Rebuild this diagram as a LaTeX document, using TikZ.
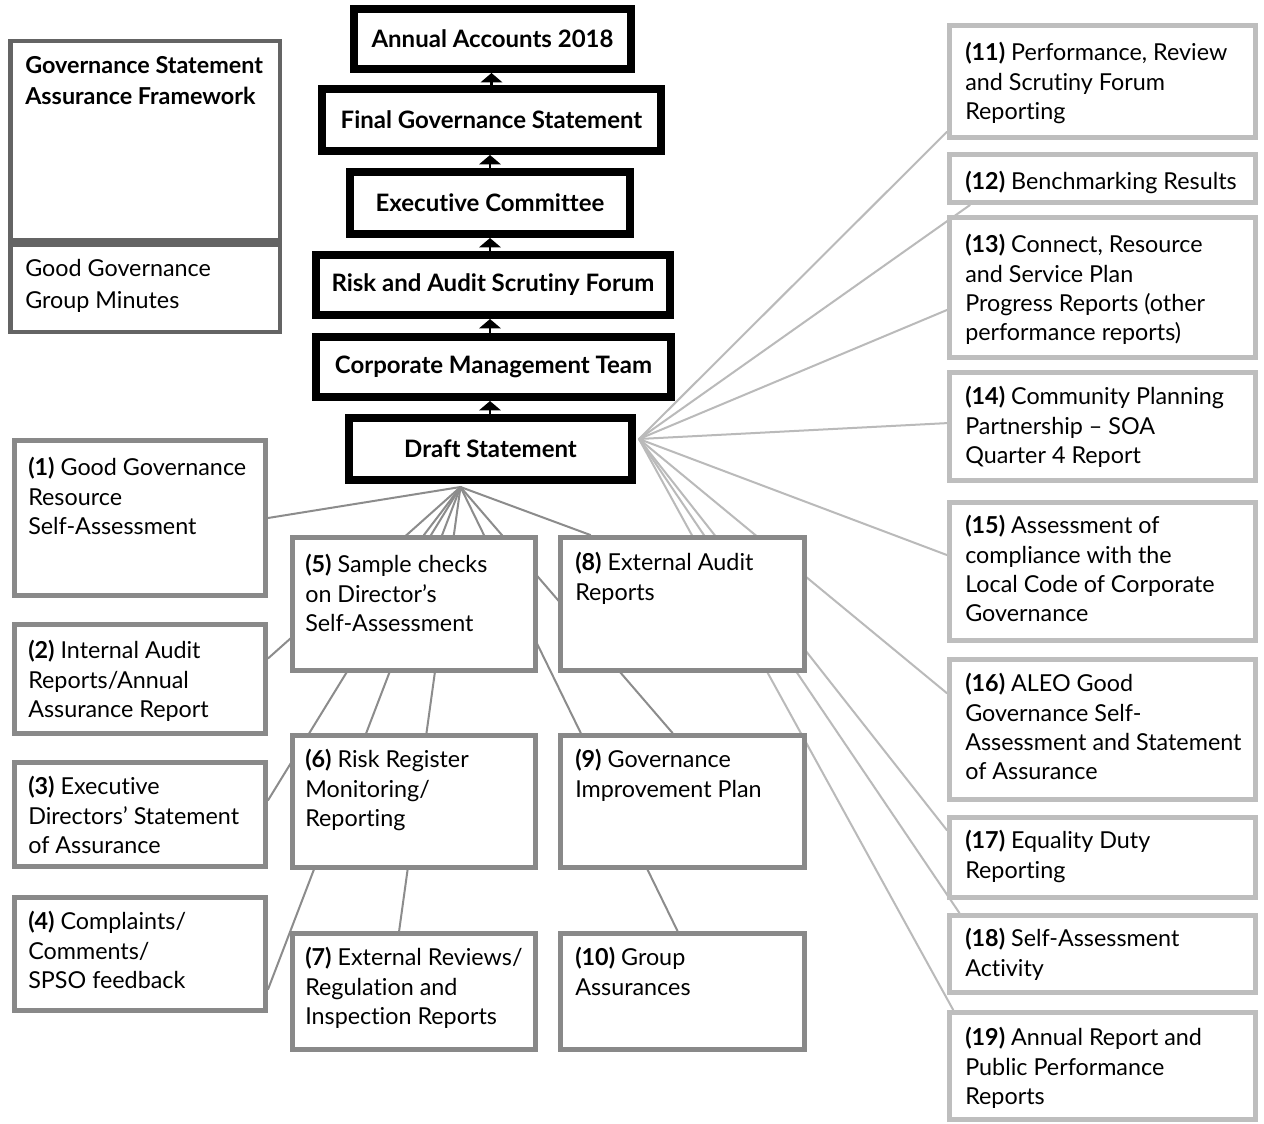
\documentclass[tikz,border=0pt]{standalone}
\usepackage{fontspec}
\setmainfont{Lato}[Ligatures=NoCommon]
\usetikzlibrary{calc,arrows.meta}
\definecolor{midgray}{HTML}{898989}
\definecolor{lightgraytwo}{HTML}{BEBEBE}
\definecolor{framegray}{HTML}{646464}
\definecolor{linkdark}{HTML}{8C8C8C}
\definecolor{linklight}{HTML}{BABABA}
\pgfdeclarelayer{bg}
\pgfsetlayers{bg,main}
% name, style, x1, y1, x2, y2, line width (px), text
\newcommand\bx[8]{\node[#2, line width=#7*0.75pt, inner sep=0pt,
  minimum width={(#5-#3-#7)*0.75pt}, minimum height={(#6-#4-#7)*0.75pt}]
  (#1) at ({(#3+#5)/2},{(#4+#6)/2}) {#8};}
\newcommand\tx[4]{\node[txt] (#1) at (#2,#3) {\strut #4};}
\begin{document}
\begin{tikzpicture}[x=0.75pt,y=-0.75pt,
  gbox/.style={draw=midgray, fill=white},
  rbox/.style={draw=lightgraytwo, fill=white},
  fbox/.style={draw=framegray, fill=white},
  cbox/.style={draw=black, fill=white, font=\bfseries\fontsize{18}{20}\selectfont},
  txt/.style={anchor=north west, inner sep=0pt, align=left, font=\fontsize{17.5}{22}\selectfont},
  ldark/.style={draw=linkdark, line width=1.5pt, line cap=round},
  llight/.style={draw=linklight, line width=1.5pt, line cap=round},
  uparrow/.style={draw=black, line width=2pt, -{Triangle[width=16pt,length=7pt]}}
]
\useasboundingbox (0,0) rectangle (1264,1124);

% framework box
\bx{fwa}{fbox}{8}{39}{282}{242}{4.5}{}
\bx{fwb}{fbox}{8}{242}{282}{334}{4.5}{}
\node[txt, font=\bfseries\fontsize{17.5}{23}\selectfont] (fwta) at (25,52) {\strut Governance Statement\\Assurance Framework};
\node[txt, font=\fontsize{17.5}{24}\selectfont] (fwtb) at (25,254) {\strut Good Governance\\Group Minutes};

% chain
\bx{annual}{cbox}{350}{5}{635}{73}{8}{Annual Accounts 2018}
\bx{final}{cbox}{318}{85}{665}{155}{8}{Final Governance Statement}
\bx{exec}{cbox}{346}{168}{634}{238}{8}{Executive Committee}
\bx{risk}{cbox}{312}{251}{674}{319}{8}{Risk and Audit Scrutiny Forum}
\bx{corp}{cbox}{312}{333}{675}{401}{8}{Corporate Management Team}
\bx{draft}{cbox}{345}{414}{636}{484}{8}{Draft Statement}

\draw[uparrow] (final.north) -- (final.north |- annual.south);
\draw[uparrow] (exec.north) -- (exec.north |- final.south);
\draw[uparrow] (risk.north -| exec.north) -- (exec.south);
\draw[uparrow] (corp.north -| exec.north) -- (exec.north |- risk.south);
\draw[uparrow] (draft.north -| exec.north) -- (exec.north |- corp.south);

% left boxes
\bx{b1}{gbox}{12}{438}{268}{598}{5}{}
\bx{b2}{gbox}{12}{622}{268}{736}{5}{}
\bx{b3}{gbox}{12}{760}{268}{869}{5}{}
\bx{b4}{gbox}{12}{895}{268}{1013}{5}{}
\bx{b5}{gbox}{290}{535}{538}{673}{5}{}
\bx{b6}{gbox}{290}{733}{538}{870}{5}{}
\bx{b7}{gbox}{290}{931}{538}{1052}{5}{}
\bx{b8}{gbox}{558}{535}{807}{673}{5}{}
\bx{b9}{gbox}{558}{733}{807}{870}{5}{}
\bx{b10}{gbox}{558}{931}{807}{1052}{5}{}

% right boxes
\bx{b11}{rbox}{947}{23}{1258}{140}{5}{}
\bx{b12}{rbox}{947}{152}{1258}{205}{5}{}
\bx{b13}{rbox}{947}{215}{1258}{360}{5}{}
\bx{b14}{rbox}{947}{370}{1258}{483}{5}{}
\bx{b15}{rbox}{947}{500}{1258}{643}{5}{}
\bx{b16}{rbox}{947}{657}{1258}{802}{5}{}
\bx{b17}{rbox}{947}{815}{1258}{900}{5}{}
\bx{b18}{rbox}{947}{913}{1258}{995}{5}{}
\bx{b19}{rbox}{947}{1010}{1258}{1122}{5}{}

% texts
\tx{t1}{28}{455}{\textbf{(1)} Good Governance\\Resource\\Self-Assessment}
\tx{t2}{28}{638}{\textbf{(2)} Internal Audit\\Reports/Annual\\Assurance Report}
\tx{t3}{28}{774}{\textbf{(3)} Executive\\Directors’ Statement\\of Assurance}
\tx{t4}{28}{909}{\textbf{(4)} Complaints/\\Comments/\\SPSO feedback}
\tx{t5}{305}{552}{\textbf{(5)} Sample checks\\on Director’s\\Self-Assessment}
\tx{t6}{305}{747}{\textbf{(6)} Risk Register\\Monitoring/\\Reporting}
\tx{t7}{305}{945}{\textbf{(7)} External Reviews/\\Regulation and\\Inspection Reports}
\tx{t8}{575}{550}{\textbf{(8)} External Audit\\Reports}
\tx{t9}{575}{747}{\textbf{(9)} Governance\\Improvement Plan}
\tx{t10}{575}{945}{\textbf{(10)} Group\\Assurances}
\tx{t11}{965}{40}{\textbf{(11)} Performance, Review\\and Scrutiny Forum\\Reporting}
\tx{t12}{965}{169}{\textbf{(12)} Benchmarking Results}
\tx{t13}{965}{232}{\textbf{(13)} Connect, Resource\\and Service Plan\\Progress Reports (other\\performance reports)}
\tx{t14}{965}{384}{\textbf{(14)} Community Planning\\Partnership – SOA\\Quarter 4 Report}
\tx{t15}{965}{513}{\textbf{(15)} Assessment of\\compliance with the\\Local Code of Corporate\\Governance}
\tx{t16}{965}{671}{\textbf{(16)} ALEO Good\\Governance Self-\\Assessment and Statement\\of Assurance}
\tx{t17}{965}{828}{\textbf{(17)} Equality Duty\\Reporting}
\tx{t18}{965}{926}{\textbf{(18)} Self-Assessment\\Activity}
\tx{t19}{965}{1025}{\textbf{(19)} Annual Report and\\Public Performance\\Reports}

% connectors (behind boxes)
\begin{pgfonlayer}{bg}
\fill[white] (0,0) rectangle (1264,1124);
\coordinate (hubL) at ($(draft.south)+(-30,3)$);
\coordinate (hubR) at ($(draft.east)+(3,-10)$);
\draw[ldark] (hubL) -- (b1.east);
\draw[ldark] (hubL) -- ($(b2.north east)!.32!(b2.south east)$);
\draw[ldark] (hubL) -- ($(b3.north east)!.37!(b3.south east)$);
\draw[ldark] (hubL) -- ($(b4.north east)!.80!(b4.south east)$);
\draw[ldark] (hubL) -- ($(b5.north west)!.54!(b5.north east)$);
\draw[ldark] (hubL) -- ($(b7.north west)!.44!(b7.north east)$);
\draw[ldark] (hubL) -- ($(b8.north west)!.13!(b8.north east)$);
\draw[ldark] (hubL) -- ($(b9.north west)!.46!(b9.north east)$);
\draw[ldark] (hubL) -- ($(b10.north west)!.48!(b10.north east)$);
\draw[llight] (hubR) -- ($(b11.north west)!.93!(b11.south west)$);
\draw[llight] (hubR) -- ($(b12.south west)!.074!(b12.south east)$);
\draw[llight] (hubR) -- ($(b13.north west)!.655!(b13.south west)$);
\draw[llight] (hubR) -- ($(b14.north west)!.47!(b14.south west)$);
\draw[llight] (hubR) -- ($(b15.north west)!.385!(b15.south west)$);
\draw[llight] (hubR) -- ($(b16.north west)!.25!(b16.south west)$);
\draw[llight] (hubR) -- ($(b17.north west)!.18!(b17.south west)$);
\draw[llight] (hubR) -- ($(b18.north west)!.04!(b18.north east)$);
\draw[llight] (hubR) -- ($(b19.north west)!.02!(b19.north east)$);
\end{pgfonlayer}
\end{tikzpicture}
\end{document}
